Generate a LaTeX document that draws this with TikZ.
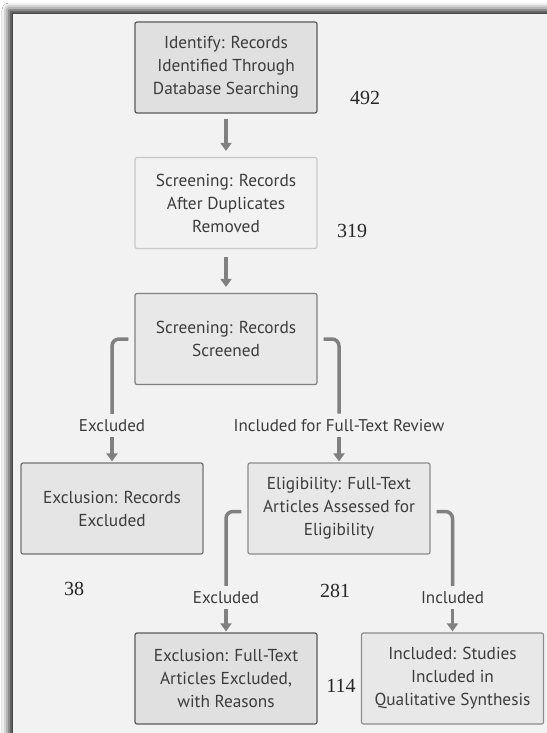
\documentclass[tikz,border=0pt]{standalone}
\usepackage{fontspec}
\setmainfont{PT Sans}
\newfontfamily\countfont{Liberation Serif}
\usepackage{tikz}
\usetikzlibrary{positioning}
\usetikzlibrary{arrows.meta,shadows.blur}
\definecolor{panelgray}{HTML}{F2F2F2}
\definecolor{linkgray}{HTML}{808080}
\definecolor{textgray}{HTML}{3C3C3C}
\tikzstyle{stage}=[draw, rounded corners=2pt, line width=1.2pt, minimum width=182pt, minimum height=91pt, align=center, text=textgray, font=\fontsize{17.3}{23}\selectfont, inner sep=0pt]
\tikzstyle{link}=[draw=linkgray, line width=3.5pt, rounded corners=7pt]
\tikzstyle{arrowlink}=[draw=linkgray, line width=3.5pt, -{Triangle[width=11pt,length=8pt]}]
\tikzstyle{branchlabel}=[text=textgray, font=\fontsize{17}{18}\selectfont, inner sep=0pt]
\tikzstyle{count}=[text=black!85, font=\countfont\fontsize{20}{22}\selectfont, inner sep=0pt]

\begin{document}
\begin{tikzpicture}[x=1pt, y=-1pt]
            \useasboundingbox (0,0) rectangle (546,733);
            \fill[white] (0,0) rectangle (546,733);
            \fill[panelgray, blur shadow={shadow xshift=-4pt, shadow yshift=4pt, shadow blur radius=7pt, shadow opacity=90}] (13,14) rectangle (560,750);

            \node[stage, draw=black!65, fill=black!12] (b1) at (226,67.5) {Identify: Records\\Identified Through\\Database Searching};
            \node[stage, draw=black!22, fill=panelgray] (b2) at (226,203) {Screening: Records\\After Duplicates\\Removed};
            \node[stage, draw=black!50, fill=black!9] (b3) at (226,339) {Screening: Records\\Screened};
            \node[stage, draw=black!55, fill=black!10] (b4) at (112,508.5) {Exclusion: Records\\Excluded};
            \node[stage, draw=black!45, fill=black!9] (b5) at (339,508.5) {Eligibility: Full-Text\\Articles Assessed for\\Eligibility};
            \node[stage, draw=black!65, fill=black!12] (b6) at (226,678.5) {Exclusion: Full-Text\\Articles Excluded,\\with Reasons};
            \node[stage, draw=black!45, fill=black!9] (b7) at (452.5,678.5) {Included: Studies\\Included in\\Qualitative Synthesis};

            \node[branchlabel] (lx1) at (112,426) {Excluded};
            \node[branchlabel] (li1) at (339,426) {Included for Full-Text Review};
            \node[branchlabel] (lx2) at (226,598) {Excluded};
            \node[branchlabel] (li2) at (452.5,598) {Included};

            \node[count] (n492) at (365,98) {492};
            \node[count] (n319) at (352,231) {319};
            \node[count] (n38) at (74,589) {38};
            \node[count] (n281) at (335,591) {281};
            \node[count] (n114) at (341,686) {114};

            \draw[arrowlink, shorten <=5pt, shorten >=6pt] (b1) -- (b2);
            \draw[arrowlink, shorten <=8pt, shorten >=6pt] (b2) -- (b3);

            \draw[link, shorten <=6pt, shorten >=6pt] (b3.west) -| (lx1.north);
            \draw[link, shorten <=6pt, shorten >=6pt] (b3.east) -| (li1.north);
            \draw[arrowlink, shorten <=5pt, shorten >=1pt] (lx1.south) -- (b4.north);
            \draw[arrowlink, shorten <=5pt, shorten >=1pt] (li1.south) -- (b5.north);

            \draw[link, shorten <=6pt, shorten >=6pt] ([yshift=-3pt]b5.west) -| (lx2.north);
            \draw[link, shorten <=6pt, shorten >=6pt] ([yshift=-3pt]b5.east) -| (li2.north);
            \draw[arrowlink, shorten <=5pt, shorten >=1pt] (lx2.south) -- (b6.north);
            \draw[arrowlink, shorten <=5pt, shorten >=1pt] (li2.south) -- (b7.north);
        \end{tikzpicture}
\end{document}
